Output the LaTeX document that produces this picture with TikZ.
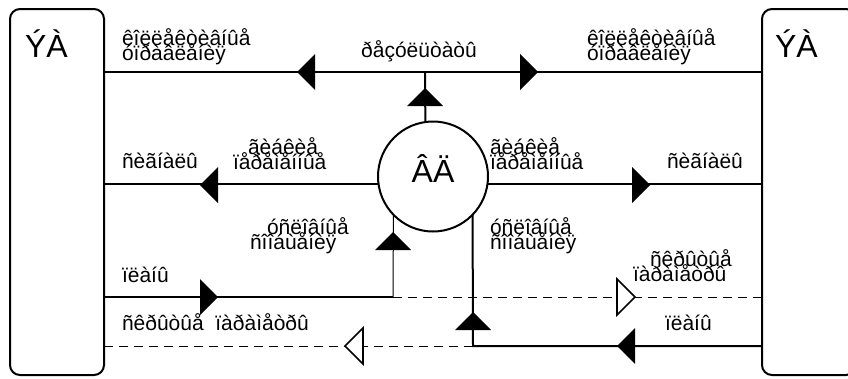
\documentclass[tikz,border=0pt]{standalone}
\usepackage{fontspec}
\setmainfont{Liberation Sans}
\usetikzlibrary{calc}
\newcommand\lblfont{\fontsize{21}{15.5}\selectfont\lineskiplimit=-100pt\lineskip=0pt}
\newcommand\bigfont{\fontsize{32}{38}\selectfont}
\newcommand\hdL[3][headfill]{\path[#1] (#2,#3) -- ++(18,-18) -- ++(0,36) -- cycle;}
\newcommand\hdR[3][headfill]{\path[#1] (#2,#3) -- ++(-18,-18) -- ++(0,36) -- cycle;}
\newcommand\hdU[3][headfill]{\path[#1] (#2,#3) -- ++(-18,18) -- ++(36,0) -- cycle;}
\tikzset{
  thickline/.style={line width=2pt},
  thinline/.style={line width=1pt},
  dashline/.style={line width=1pt, dash pattern=on 9pt off 6pt},
  headfill/.style={fill=black},
  headopen/.style={draw=black, fill=white, line width=1.6pt, line join=miter},
  eabox/.style={draw, line width=2pt, rounded corners=10pt, minimum width=94pt,
    minimum height=366pt, inner sep=0pt, outer sep=0pt},
  vdcircle/.style={circle, draw, line width=2pt, minimum size=110pt, inner sep=0pt,
    outer sep=0pt, font=\bigfont, text height=27pt, text depth=15pt},
  bigtext/.style={font=\bigfont, inner sep=0pt, outer sep=0pt},
  lbl/.style={font=\lblfont, inner sep=0pt, outer sep=0pt, align=left},
}
\begin{document}
\begin{tikzpicture}[x=1pt, y=-1pt]
\useasboundingbox (0,0) rectangle (848,378);
% main nodes
\node[eabox] (ea1) at (57,192) {};
\node[eabox] (ea2) at (809,192) {};
\node[bigtext, anchor=base west] (ea1t) at (25,57) {ÝÀ};
\node[bigtext, anchor=base west] (ea2t) at (775,57) {ÝÀ};
\node[vdcircle] (vd) at (433,176.5) {ÂÄ};
% junctions
\coordinate (jt) at (425,72);
\coordinate (jl) at (393,297);
\coordinate (jr) at (473,346);
% connectors
\draw[thickline] (vd.98.2) -- (jt);
\draw[thickline] (jt) -- (ea1.east |- jt);
\draw[thickline] (jt) -- (ea2.west |- jt);
\draw[thickline] (vd.188.7) -- (ea1.east |- vd.188.7);
\draw[thickline] (vd.-8.7) -- (ea2.west |- vd.-8.7);
\draw[thinline] (vd.224.4) -- (jl);
\draw[thickline] (jl) -- (ea1.east |- jl);
\draw[dashline] (jl) -- (ea2.west |- jl);
\draw[thickline] (vd.-44.4) -- (jr) -- (ea2.west |- jr);
\draw[dashline] (jr) -- (ea1.east |- jr);
% arrowheads
\hdL{297}{72}
\hdR{538}{72}
\hdU{425}{88}
\hdL{200}{185}
\hdR{650}{185}
\hdU{393}{232}
\hdR{218}{297}
\hdR[headopen]{635}{297}
\hdU{473}{312}
\hdL{617}{346}
\hdL[headopen]{345}{346}
% labels
\node[lbl, anchor=north west] (l1) at (122,28.5) {êîëëåêòèâíûå\\óïðàâëåíèÿ};
\node[lbl, anchor=north west] (l2) at (587,28.5) {êîëëåêòèâíûå\\óïðàâëåíèÿ};
\node[lbl, anchor=base] (l3) at (419,57) {ðåçóëüòàòû};
\node[lbl, anchor=base west] (l4) at (122,168) {ñèãíàëû};
\node[lbl, anchor=base west] (l5) at (667,168) {ñèãíàëû};
\node[lbl, anchor=north west] (l6) at (233,137.5) {\hspace*{15pt}ãèáêèå\\ïåðåìåííûå};
\node[lbl, anchor=north west] (l7) at (490,137.5) {ãèáêèå\\ïåðåìåííûå};
\node[lbl, anchor=north west] (l8) at (250,217.5) {\hspace*{17pt}óñëîâíûå\\ñîîáùåíèÿ};
\node[lbl, anchor=north west] (l9) at (490,217.5) {óñëîâíûå\\ñîîáùåíèÿ};
\node[lbl, anchor=base west] (l10) at (122,282) {ïëàíû};
\node[lbl, anchor=base west] (l11) at (122,330) {ñêðûòûå~~ïàðàìåòðû};
\node[lbl, anchor=north west] (l12) at (633,249.5) {\hspace*{17pt}ñêðûòûå\\ïàðàìåòðû};
\node[lbl, anchor=base west] (l13) at (665,330) {ïëàíû};
\end{tikzpicture}
\end{document}
